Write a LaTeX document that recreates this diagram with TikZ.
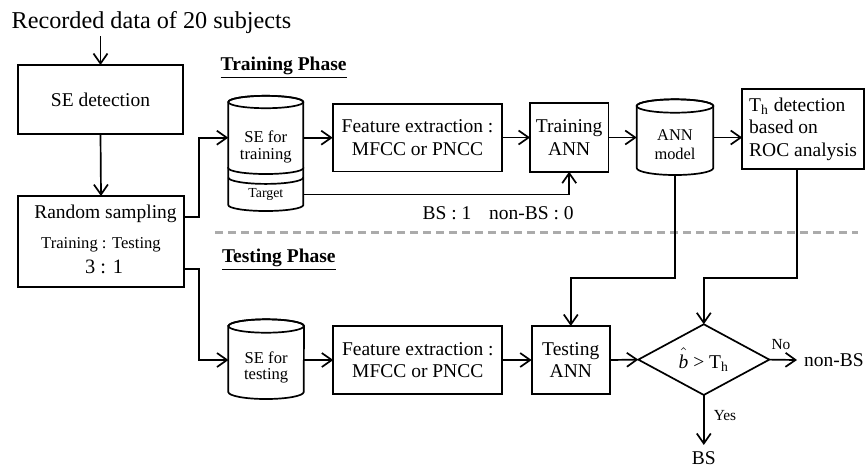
\documentclass[tikz,border=0pt]{standalone}
\usepackage{fontspec}
\setmainfont{Liberation Serif}
\usetikzlibrary{arrows.meta}
\begin{document}
\begin{tikzpicture}[x=0.5pt,y=-0.5pt,
  every node/.style={inner sep=0pt, outer sep=0pt},
  main/.style={font=\fontsize{9.75}{11.2}\selectfont},
  smallf/.style={font=\fontsize{8.3}{8.4}\selectfont},
  tinyf/.style={font=\fontsize{7.7}{8}\selectfont},
  ln/.style={line width=0.85pt},
  box/.style={draw, line width=0.85pt, align=center, main},
  arr/.style={ln, -{Straight Barb[length=5pt,width=7pt]}},
  cylfill/.style={draw, fill=white, line width=0.85pt},
  sep/.style={draw=black!33, line width=1.1pt, dash pattern=on 4pt off 2.5pt},
]
\useasboundingbox (0,0) rectangle (866,468);

% title and left column
\node[anchor=base west, font=\fontsize{12.1}{14}\selectfont, inner sep=1.5pt] (title) at (8.7,28.3) {Recorded data of 20 subjects};
\node[box, minimum width=82.5pt, minimum height=34.5pt] (sedet) at (100.5,99.5) {SE detection};
\node[draw, ln, minimum width=83pt, minimum height=45.5pt] (rand) at (101,241.5) {};
\node[main] (randt) at (105.5,214) {Random sampling};
\node[smallf] (ratio) at (101,245) {Training : Testing};
\node[font=\fontsize{10.2}{12}\selectfont] (ratnum) at (104,267) {3 : 1};
\draw[arr] (title.south -| sedet.north) -- (sedet.north);
\draw[arr] (sedet.south) -- (rand.north);

% phase labels and separator
\node[main, anchor=base west] (trph) at (220.7,70) {\underline{\textbf{Training Phase}}};
\node[main, anchor=base west] (teph) at (222,262.7) {\underline{\textbf{Testing Phase}}};
\coordinate (sepL) at (215,232.5);
\coordinate (sepR) at (858,232.5);
\draw[sep] (sepL) -- (sepR);

% training cylinder with target
\draw[cylfill] (228.3,168) -- (228.3,205) arc[start angle=180,end angle=360,x radius=18.75pt,y radius=3pt] -- (303.3,168) -- cycle;
\draw[ln] (228.3,177.5) arc[start angle=180,end angle=360,x radius=18.75pt,y radius=3.2pt];
\draw[cylfill] (228.3,102) -- (228.3,168) arc[start angle=180,end angle=360,x radius=18.75pt,y radius=3pt] -- (303.3,102) arc[start angle=0,end angle=180,x radius=18.75pt,y radius=3.1pt] -- cycle;
\draw[ln] (265.8,102) ellipse[x radius=18.75pt, y radius=3.1pt];
\node[minimum width=37.5pt, minimum height=35.7pt] (setrain) at (265.8,137.7) {};
\node[smallf, align=center] (setraint) at (265.8,146.7) {SE for\\training};
\node[font=\fontsize{6.9}{7}\selectfont, minimum width=37.5pt] (target) at (265.8,194.5) {Target};

\node[box, minimum width=84.8pt, minimum height=33.85pt] (feat1) at (417.5,137.5) {Feature extraction :\\MFCC or PNCC};
\node[box, minimum width=39.15pt, minimum height=34.2pt] (trainann) at (569.2,137.5) {Training\\ANN};

% ANN model cylinder
\draw[cylfill] (636.7,106) -- (636.7,168) arc[start angle=180,end angle=360,x radius=19.15pt,y radius=3.5pt] -- (713.3,106) arc[start angle=0,end angle=180,x radius=19.15pt,y radius=3.35pt] -- cycle;
\draw[ln] (675,106) ellipse[x radius=19.15pt, y radius=3.35pt];
\node[minimum width=38.3pt, minimum height=38pt] (annmodel) at (675,137) {};
\node[font=\fontsize{8.2}{9.5}\selectfont, align=center] (annmodelt) at (675,144.5) {ANN\\model};

\node[box, align=left, inner xsep=3.5pt, minimum height=40pt] (th) at (803.1,129.3) {T\textsubscript{h} detection\\based on\\ROC analysis};

\draw[arr] ([yshift=12.1pt]rand.east) -- ++(15,0) |- (setrain.west);
\draw[arr] (setrain.east) -- (setrain.east -| feat1.west);
\draw[arr] (feat1.east) -- (trainann.west);
\draw[arr] (trainann.east) -- (annmodel.west |- trainann.east);
\draw[arr] (annmodel.east |- trainann.east) -- (th.west |- trainann.east);
\draw[arr] (target.east) -| (trainann.south);
\node[main, anchor=base west] (lab) at (422.7,219.3) {BS : 1\hspace{8.85pt}non-BS : 0};

% testing phase
\draw[cylfill] (228.3,326) -- (228.3,392) arc[start angle=180,end angle=360,x radius=18.85pt,y radius=3.5pt] -- (304,326) arc[start angle=0,end angle=180,x radius=18.85pt,y radius=3.35pt] -- cycle;
\draw[ln] (266.15,326) ellipse[x radius=18.85pt, y radius=3.35pt];
\node[minimum width=37.7pt, minimum height=40pt] (setest) at (266.15,360) {};
\node[smallf, align=center] (setestt) at (266.15,367.5) {SE for\\testing};
\draw[arr] ([yshift=-13.75pt]rand.east) -- ++(15,0) |- (setest.west);

\node[box, minimum width=84.5pt, minimum height=34pt] (feat2) at (417.8,360) {Feature extraction :\\MFCC or PNCC};
\node[box, minimum width=39.15pt, minimum height=34pt] (testann) at (570.8,360) {Testing\\ANN};
\draw[arr] (setest.east) -- (feat2.west);
\draw[arr] (feat2.east) -- (testann.west);
\draw[arr] (annmodel.south) |- ([yshift=23.85pt]testann.north) -- (testann.north);

\node[main, minimum width=65.5pt, minimum height=35.35pt] (dec) at (703.8,359.6) {\(\hat{\rule{0pt}{7.4pt}\smash{\textit{b}}}\) > T\textsubscript{h}};
\draw[ln] (dec.north) -- (dec.east) -- (dec.south) -- (dec.west) -- cycle;
\draw[arr] ([xshift=-2.9pt]th.south) |- ([yshift=23pt]dec.north) -- (dec.north);
\draw[arr] (testann.east) -- (dec.west);
\node[main, anchor=west, inner sep=3.5pt] (nonbs) at (797,360) {non-BS};
\draw[arr] (dec.east) -- (nonbs.west);
\node[tinyf] (no) at (781,345) {No};
\node[main, inner sep=3.4pt] (bs) at (703.8,458.3) {BS};
\draw[arr] (dec.south) -- (bs.north);
\node[tinyf] (yes) at (725,415.7) {Yes};
\end{tikzpicture}
\end{document}
